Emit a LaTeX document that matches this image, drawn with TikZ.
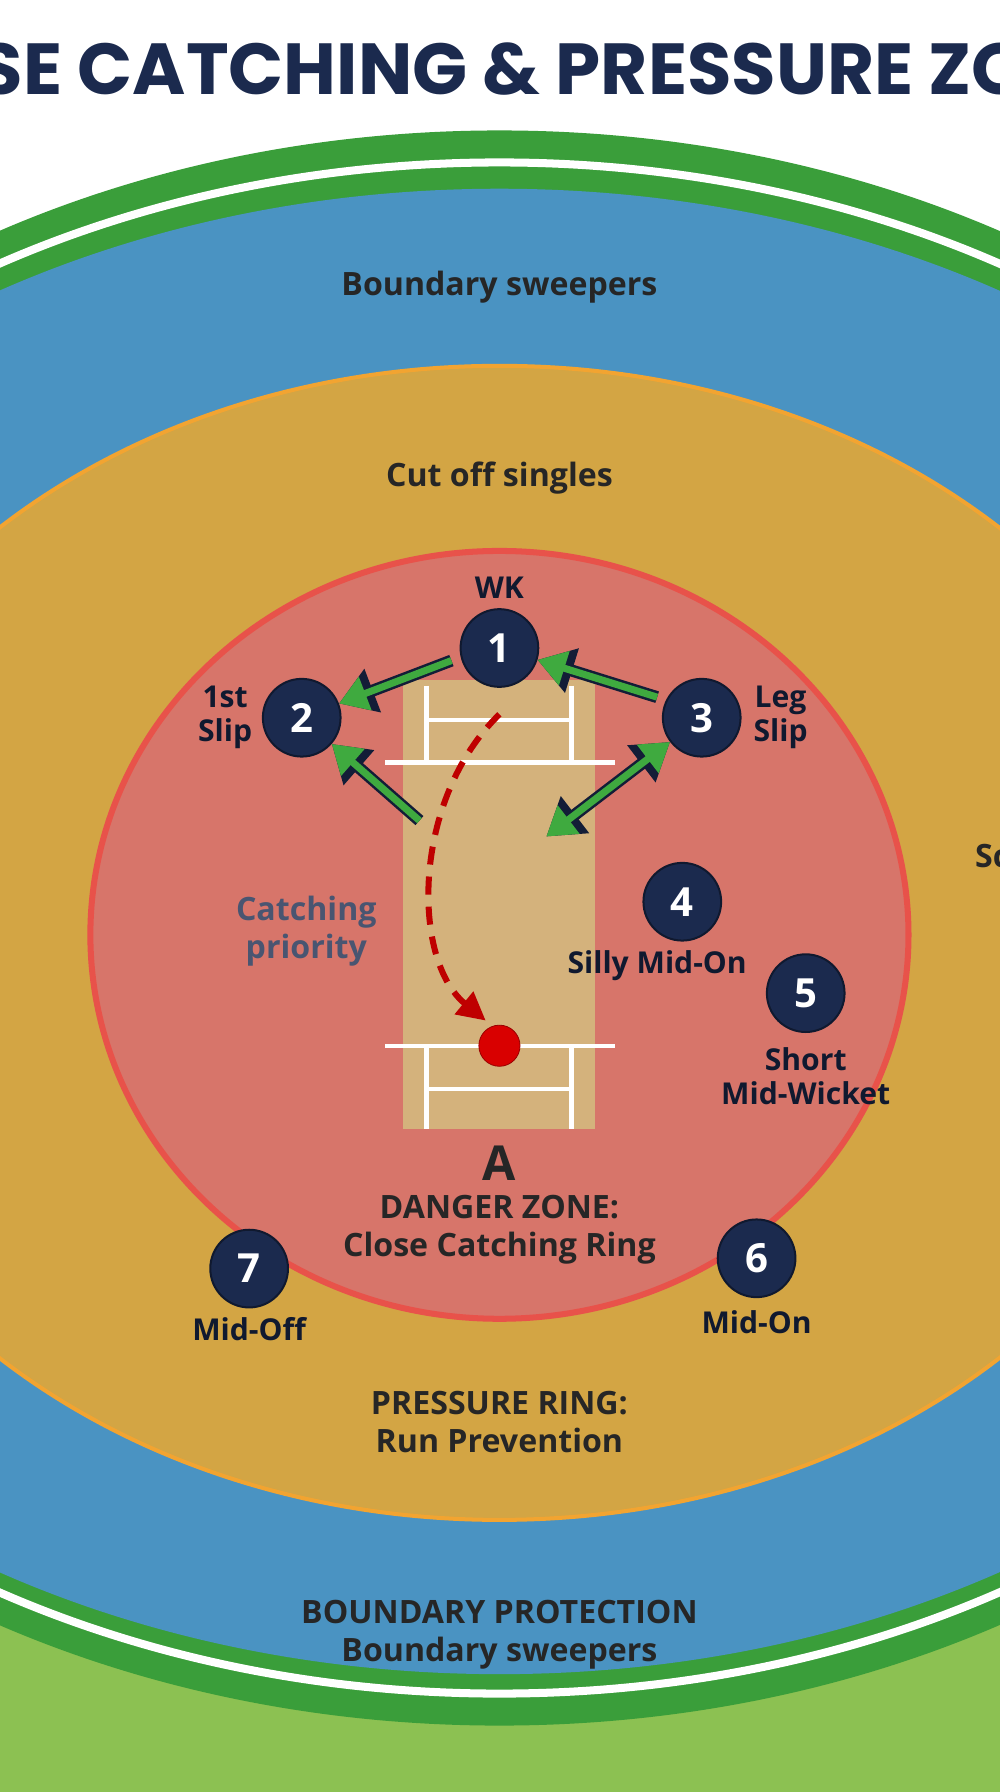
\documentclass[tikz,border=0pt]{standalone}
\usepackage{fontspec}
\setmainfont{Open Sans}
\newfontfamily\titlefont{Poppins}
\usetikzlibrary{arrows.meta,positioning}
\definecolor{navy}{HTML}{1B2A4E}
\definecolor{fieldgreen}{HTML}{3A9E3A}
\definecolor{lightfield}{HTML}{8CC152}
\definecolor{outblue}{HTML}{4A93C2}
\definecolor{ringgold}{HTML}{D3A544}
\definecolor{ringedge}{HTML}{F2A431}
\definecolor{dangerfill}{HTML}{D7756A}
\definecolor{dangeredge}{HTML}{E8524A}
\definecolor{pitchtan}{HTML}{D4B27C}
\definecolor{arrowgreen}{HTML}{3FAA3F}
\tikzset{
  player/.style={circle,fill=navy,draw=navy!60!black,line width=1pt,minimum size=1.36cm,inner sep=0pt,text=white,font=\bfseries\fontsize{20}{20}\selectfont},
  poslabel/.style={text=navy!60!black,font=\bfseries\fontsize{15}{17}\selectfont,align=center},
  zonelabel/.style={text=black!85,font=\bfseries\fontsize{16}{19}\selectfont,align=center},
  crease/.style={white,line width=2.2pt},
  moveback/.style={navy!70!black,line width=6pt,-{Triangle[length=18pt,width=22pt]}},
  movefront/.style={arrowgreen,line width=3.5pt,-{Triangle[length=14pt,width=17pt]}}
}
\begin{document}
\begin{tikzpicture}[x=0.02cm,y=-0.02cm]
\useasboundingbox (0,0) rectangle (875,1568);
\clip (0,0) rectangle (875,1568);
% ground
\fill[white] (0,0) rectangle (875,1568);
\fill[lightfield] (0,1400) rectangle (875,1568);
\fill[fieldgreen] (437,812) ellipse [x radius=18cm,y radius=13.96cm];
\draw[white,line width=4pt] (437,812) ellipse [x radius=17.6cm,y radius=13.4cm];
\fill[outblue] (437,815) ellipse [x radius=17.3cm,y radius=13cm];
\filldraw[fill=ringgold,draw=ringedge,line width=2pt] (437,825) ellipse [x radius=12.6cm,y radius=10.1cm];
\filldraw[fill=dangerfill,draw=dangeredge,line width=3pt] (437,818) ellipse [x radius=7.16cm,y radius=6.72cm];
% pitch
\fill[pitchtan] (353,595) rectangle (521,988);
\draw[crease] (337,667) -- (538,667);
\draw[crease] (373,630) -- (500,630);
\draw[crease] (373,600) -- (373,667);
\draw[crease] (500,600) -- (500,667);
\draw[crease] (337,915) -- (538,915);
\draw[crease] (373,953) -- (500,953);
\draw[crease] (373,915) -- (373,988);
\draw[crease] (500,915) -- (500,988);
% title and zone texts
\node[text=navy,font=\titlefont\bfseries\fontsize{36}{36}\selectfont] (title) at (437,60) {CLOSE CATCHING \& PRESSURE ZONES};
\node[zonelabel] (sweeptop) at (437,251) {Boundary sweepers};
\node[zonelabel] (cutoff) at (437,418) {Cut off singles};
\node[zonelabel,anchor=west] (scoring) at (847,752) {Scoring};
\node[text=navy!80,font=\bfseries\fontsize{16}{19}\selectfont,align=center] (priority) at (268,815) {Catching\\priority};
\node[text=black!85,font=\bfseries\fontsize{24}{24}\selectfont] (amark) at (437,1018) {A};
\node[zonelabel] (danger) at (437,1076) {DANGER ZONE:\\Close Catching Ring};
\node[zonelabel] (pressure) at (437,1244) {PRESSURE RING:\\Run Prevention};
\node[zonelabel] (protect) at (437,1430) {BOUNDARY PROTECTION\\Boundary sweepers};
% ball path
\coordinate (balltop) at (437,625);
\draw[red!75!black,line width=3pt,dash pattern=on 9pt off 6pt,-{Triangle[length=14pt,width=14pt]}] (balltop) .. controls (360,700) and (360,840) .. (425,893);
\node[circle,fill=red!85!black,draw=red!60!black,minimum size=0.72cm,inner sep=0pt] (ball) at (437,915) {};
% fielders
\node[player] (p1) at (437,567) {1};
\node[player] (p2) at (264,628) {2};
\node[player] (p3) at (614,628) {3};
\node[player] (p4) at (597,789) {4};
\node[player] (p5) at (705,869) {5};
\node[player] (p6) at (662,1101) {6};
\node[player] (p7) at (218,1110) {7};
\node[poslabel] (wk) at (437,514) {WK};
\node[poslabel] (slip1) at (197,628) {1st\\Slip};
\node[poslabel] (legslip) at (683,628) {Leg\\Slip};
\node[poslabel] (sillymid) at (575,845) {Silly Mid-On};
\node[poslabel] (shortmid) at (705,942) {Short\\Mid-Wicket};
\node[poslabel] (midon) at (662,1157) {Mid-On};
\node[poslabel] (midoff) at (218,1163) {Mid-Off};
% movement arrows
\coordinate (a1) at (395,578); \coordinate (a2) at (575,610);
\coordinate (a3) at (367,718); \coordinate (a4) at (478,732);
\foreach \s/\e in {a1/p2,a2/p1,a3/p2}{
  \draw[moveback] (\s) -- (\e);
  \draw[movefront] (\s) -- (\e);
}
\draw[moveback,{Triangle[length=18pt,width=22pt]}-{Triangle[length=18pt,width=22pt]}] (a4) -- (p3);
\draw[movefront,{Triangle[length=14pt,width=17pt]}-{Triangle[length=14pt,width=17pt]}] (a4) -- (p3);
\end{tikzpicture}
\end{document}
